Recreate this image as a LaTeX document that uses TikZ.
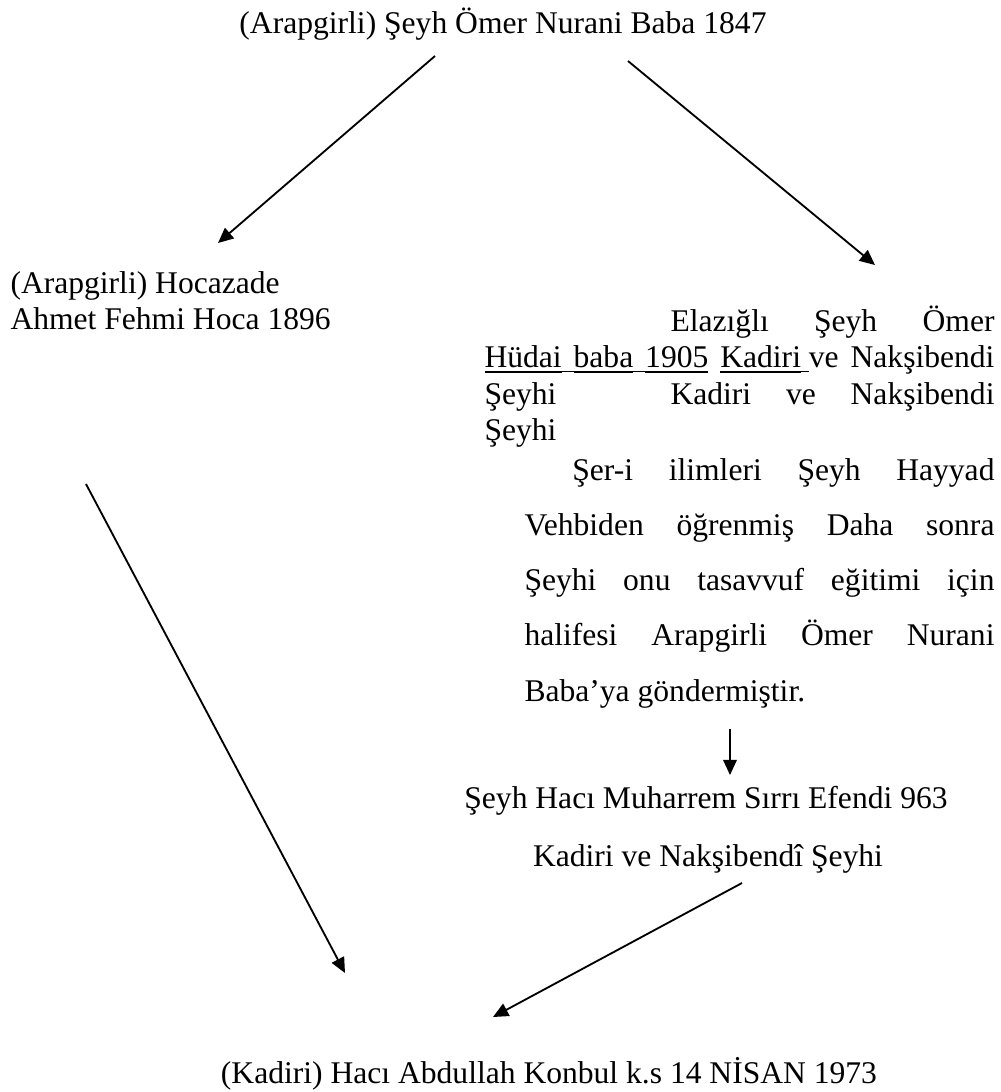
\documentclass[tikz,border=0pt]{standalone}
\usepackage{fontspec}
\setmainfont{Liberation Serif}
\usetikzlibrary{arrows.meta}
\newcommand{\ulword}[1]{\vtop{\hbox{#1}\kern1.3pt\hrule height0.5pt}}
\newcommand{\ulgap}{\leaders\vrule height-1.3pt depth1.8pt\hskip\fontdimen2\font plus\fontdimen3\font minus\fontdimen4\font}
\newcommand{\ulspace}{\leaders\vrule height-1.3pt depth1.8pt\hskip\fontdimen2\font}

\begin{document}
\begin{tikzpicture}[x=0.38pt,y=-0.38pt,
	every node/.style={inner sep=0pt,font=\fontsize{12}{13.9}\selectfont},
	arr/.style={line width=0.7pt,-{Triangle[length=5.8pt,width=5.2pt]}}]
\useasboundingbox (0,0) rectangle (1000,1092);
%TOP
	\node[anchor=base] (nurani) at (503,33) {(Arapgirli) Şeyh Ömer Nurani Baba 1847};
%LEFT BRANCH
	\node[anchor=base west] (hocazade) at (10,293) {\vtop{\baselineskip=13.9pt
		\hbox{(Arapgirli) Hocazade}
		\hbox{Ahmet Fehmi Hoca 1896}}};
%RIGHT BRANCH
	\node[anchor=base west] (hudai) at (484,331) {\vtop{\baselineskip=13.9pt
		\hbox to 193.8pt{\hspace*{70.7pt}Elazığlı\hfill Şeyh\hfill Ömer}
		\hbox to 193.8pt{\ulword{Hüdai}\ulgap\ulword{baba}\ulgap\ulword{1905} \ulword{Kadiri}\ulspace ve Nakşibendi}
		\hbox to 193.8pt{\rlap{Şeyhi}\hspace*{70.7pt}Kadiri\hfill ve\hfill Nakşibendi}
		\hbox{Şeyhi}}};
	\node[anchor=base west] (seri) at (524,480) {\vtop{\baselineskip=21pt
		\hbox to 178.6pt{\hspace*{18.2pt}Şer-i ilimleri Şeyh Hayyad}
		\hbox to 178.6pt{Vehbiden öğrenmiş Daha sonra}
		\hbox to 178.6pt{Şeyhi onu tasavvuf eğitimi için}
		\hbox to 178.6pt{halifesi Arapgirli Ömer Nurani}
		\hbox{Baba’ya göndermiştir.}}};
	\node[anchor=base] (muharrem) at (706,808) {Şeyh Hacı Muharrem Sırrı Efendi 963};
	\node[anchor=base] (sirri) at (708,866) {Kadiri ve Nakşibendî Şeyhi};
%BOTTOM
	\node[anchor=base] (konbul) at (549,1083) {(Kadiri) Hacı Abdullah Konbul k.s 14 NİSAN 1973};
%arrows
	\coordinate (nl) at (435,56);   \coordinate (hl) at (218,243);
	\coordinate (nr) at (628,61);   \coordinate (hr) at (875,265);
	\coordinate (sd) at (730,729);  \coordinate (md) at (730,775);
	\coordinate (hk) at (86,484);   \coordinate (kl) at (345,973);
	\coordinate (sk) at (742,883);  \coordinate (kr) at (493,1017);
	\draw[arr] (nl) -- (hl);
	\draw[arr] (nr) -- (hr);
	\draw[arr] (sd) -- (md);
	\draw[arr] (hk) -- (kl);
	\draw[arr] (sk) -- (kr);
\end{tikzpicture}
\end{document}
